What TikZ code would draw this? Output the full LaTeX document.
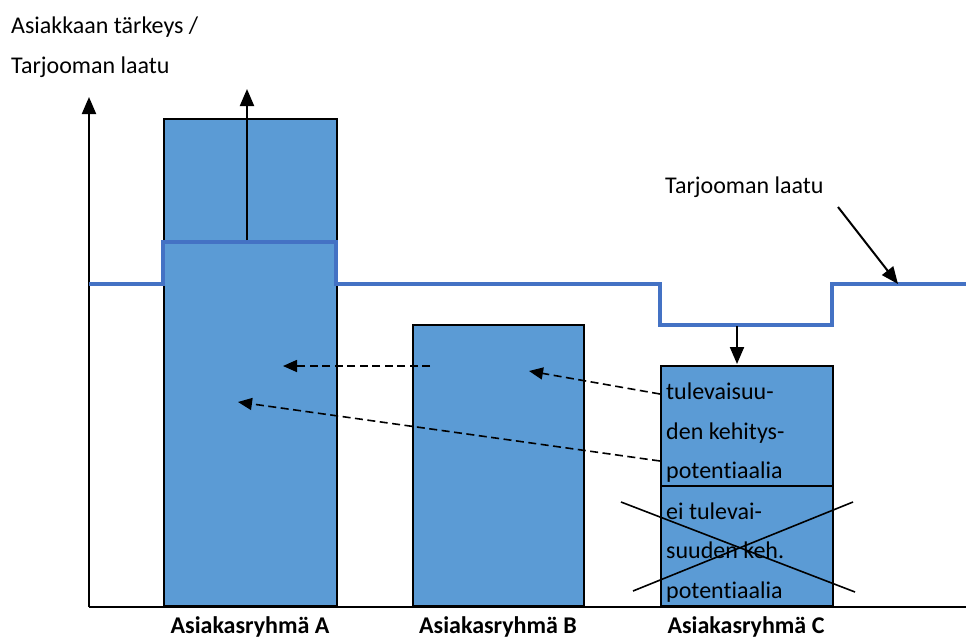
\documentclass[tikz,border=0pt]{standalone}
\usepackage{fontspec}
\setmainfont{Carlito}[Ligatures={NoCommon}]
\usetikzlibrary{arrows.meta}
\definecolor{barfill}{HTML}{5B9BD5}
\definecolor{qline}{HTML}{4472C4}

\begin{document}
\begin{tikzpicture}[x=1pt,y=-1pt,
  bar/.style={draw=black, line width=2pt, fill=barfill, inner sep=0pt, anchor=south west},
  quality/.style={draw=qline, line width=3.5pt},
  axis/.style={line width=2pt},
  solidarrow/.style={line width=2pt, -{Triangle[length=17pt,width=14pt]}},
  hint/.style={line width=1.6pt, dash pattern=on 8pt off 4.5pt, -{Triangle[length=14pt,width=12pt]}},
  cross/.style={line width=1.6pt},
  lbl/.style={font=\fontsize{24}{28}\selectfont, inner sep=0pt, anchor=base west},
  grp/.style={font=\fontsize{24}{28}\selectfont\bfseries, inner sep=0pt, anchor=base},
  ]
\useasboundingbox (0,0) rectangle (966,640);

% axes
\coordinate (origin) at (89,607);
\coordinate (ytop) at (89,97);
\coordinate (xend) at (966,607);

% bars
\node[bar, minimum width=173pt, minimum height=487pt] (barA) at (163,607) {};
\node[bar, minimum width=171pt, minimum height=281pt] (barB) at (412,607) {};
\node[bar, minimum width=172pt, minimum height=120pt] (barCtop) at (660,487) {};
\node[bar, minimum width=172pt, minimum height=120pt] (barCbot) at (660,607) {};

\draw[axis, -{Triangle[length=17pt,width=14pt]}] (origin) -- (ytop);
\draw[axis] (origin) -- (xend);

% offering quality level
\coordinate (q0) at (89,284);
\coordinate (q1) at (163,284);
\coordinate (q2) at (163,242);
\coordinate (q3) at (336,242);
\coordinate (q4) at (336,284);
\coordinate (q5) at (660,284);
\coordinate (q6) at (660,325);
\coordinate (q7) at (832,325);
\coordinate (q8) at (832,284);
\coordinate (q9) at (966,284);
\draw[quality] (q0) -- (q1) -- (q2) -- (q3) -- (q4) -- (q5) -- (q6) -- (q7) -- (q8) -- (q9);

% axis title
\node[lbl] (ytitle1) at (11,33) {Asiakkaan tärkeys /};
\node[lbl] (ytitle2) at (11,73) {Tarjooman laatu};

% quality label with pointer
\node[lbl] (qlabel) at (665,193) {Tarjooman laatu};
\coordinate (qstart) at (838,207);
\coordinate (qtip) at (898,284);
\draw[solidarrow] (qstart) -- (qtip);

% raise for group A, lower for group C
\coordinate (upstart) at (247,240);
\coordinate (uptip) at (247,89);
\draw[solidarrow] (upstart) -- (uptip);
\coordinate (downstart) at (737,326);
\coordinate (downtip) at (737,364);
\draw[solidarrow] (downstart) -- (downtip);

% migration of customers
\coordinate (h1s) at (430,366);
\coordinate (h1e) at (283,366);
\coordinate (h2s) at (660,394);
\coordinate (h2e) at (529,371);
\coordinate (h3s) at (660,461);
\coordinate (h3e) at (238,402);
\draw[hint] (h1s) -- (h1e);
\draw[hint] (h2s) -- (h2e);
\draw[hint] (h3s) -- (h3e);

% texts in group C
\node[lbl] (c1) at (666,399) {tulevaisuu-};
\node[lbl] (c2) at (666,439) {den kehitys-};
\node[lbl] (c3) at (666,478) {potentiaalia};
\node[lbl] (c4) at (666,519) {ei tulevai-};
\node[lbl] (c5) at (666,558) {suuden keh.};
\node[lbl] (c6) at (666,598) {potentiaalia};

% crossed out part
\coordinate (x1a) at (621,502);
\coordinate (x1b) at (855,592);
\coordinate (x2a) at (633,591);
\coordinate (x2b) at (853,502);
\draw[cross] (x1a) -- (x1b);
\draw[cross] (x2a) -- (x2b);

% group labels
\node[grp] (gA) at (250,633) {Asiakasryhmä A};
\node[grp] (gB) at (498,633) {Asiakasryhmä B};
\node[grp] (gC) at (746,633) {Asiakasryhmä C};
\end{tikzpicture}
\end{document}
